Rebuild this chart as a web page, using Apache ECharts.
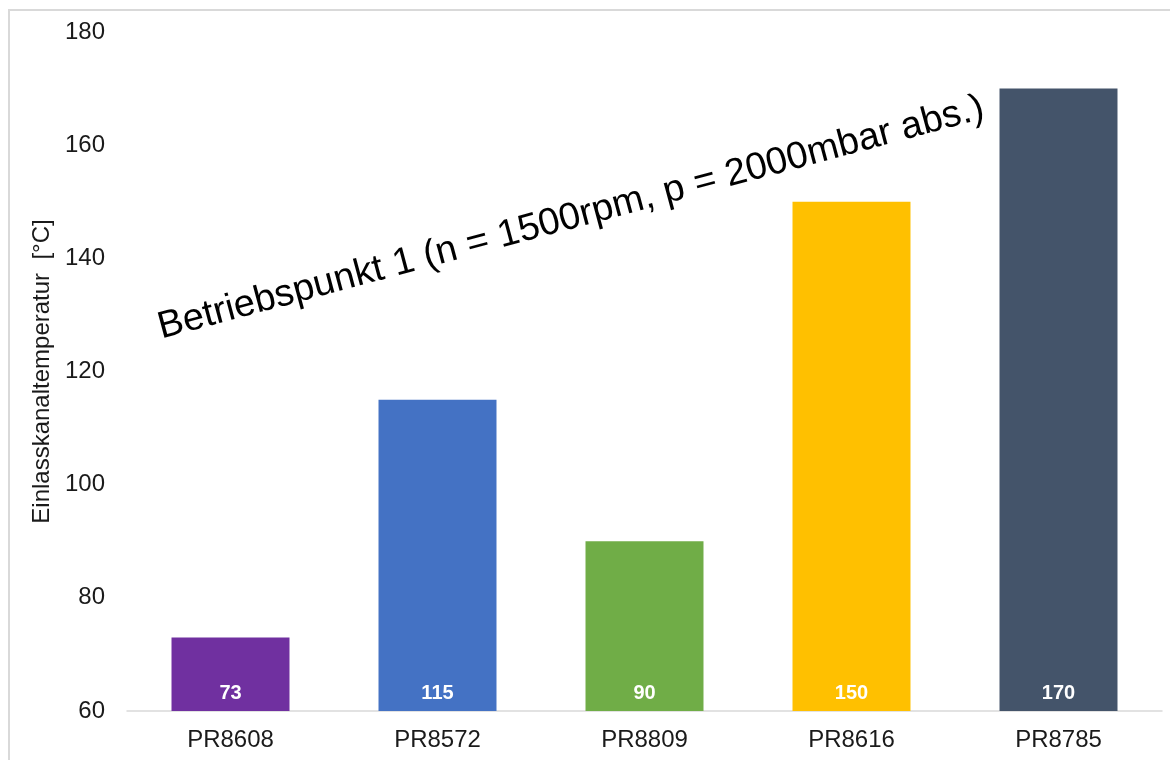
<!DOCTYPE html>
<html>
<head>
<meta charset="utf-8">
<script src="https://cdn.jsdelivr.net/npm/echarts@6/dist/echarts.min.js"></script>
<style>
  html, body { margin: 0; padding: 0; background: #fff; }
  #chart { width: 1170px; height: 760px; }
</style>
</head>
<body>
<div id="chart"></div>
<script>
// Intake-port temperature per part number
const categories = ['PR8608', 'PR8572', 'PR8809', 'PR8616', 'PR8785'];
const temperatures = [73, 115, 90, 150, 170];
const barColors = ['#7030A0', '#4472C4', '#70AD47', '#FFC000', '#44546A'];
const yTicks = { min: 60, max: 180, interval: 20 };
const axisTitle = 'Einlasskanaltemperatur  [°C]';
const note = 'Betriebspunkt 1 (n = 1500rpm, p = 2000mbar abs.)';

const FONT = '"Liberation Sans", Arial, sans-serif';
const chart = echarts.init(document.getElementById('chart'));

chart.setOption({
  backgroundColor: '#ffffff',
  animation: false,
  grid: { left: 127, right: 8, top: 32, bottom: 49 },
  xAxis: {
    type: 'category',
    data: categories,
    axisLine: { show: true, lineStyle: { color: '#d9d9d9', width: 1.5 } },
    axisTick: { show: false },
    axisLabel: { color: '#1a1a1a', fontSize: 24, fontFamily: FONT, margin: 17 }
  },
  yAxis: {
    type: 'value',
    min: yTicks.min,
    max: yTicks.max,
    interval: yTicks.interval,
    name: axisTitle,
    nameLocation: 'middle',
    nameGap: 67,
    nameTextStyle: { color: '#1a1a1a', fontSize: 24, fontFamily: FONT },
    axisLine: { show: false },
    axisTick: { show: false },
    splitLine: { show: false },
    axisLabel: { color: '#1a1a1a', fontSize: 24, fontFamily: FONT, margin: 22 }
  },
  series: [{
    type: 'bar',
    data: temperatures.map((v, i) => ({ value: v, itemStyle: { color: barColors[i] } })),
    barCategoryGap: '43%',
    label: {
      show: true,
      position: 'insideBottom',
      distance: 8,
      color: '#ffffff',
      fontWeight: 'bold',
      fontSize: 20,
      fontFamily: FONT
    }
  }],
  graphic: [
    {
      type: 'rect',
      shape: { x: 9, y: 10, width: 1200, height: 800 },
      style: { fill: 'none', stroke: '#d9d9d9', lineWidth: 2 },
      silent: true,
      z: -1
    },
    {
      type: 'text',
      x: 571,
      y: 218,
      rotation: 15 * Math.PI / 180,
      style: {
        text: note,
        fontSize: 38,
        fontFamily: FONT,
        fill: '#000000',
        textAlign: 'center',
        textVerticalAlign: 'middle'
      }
    }
  ]
});
</script>
</body>
</html>
